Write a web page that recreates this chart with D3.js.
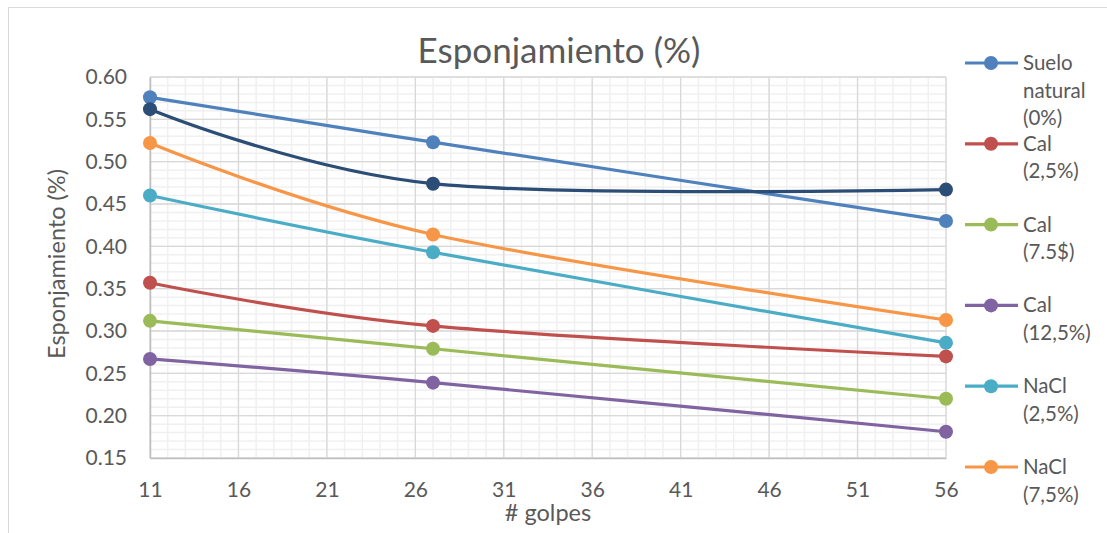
<!DOCTYPE html>
<html>
<head>
<meta charset="utf-8">
<script src="https://cdn.jsdelivr.net/npm/d3@7"></script>
<style>
  html, body { margin: 0; padding: 0; background: #fff; }
  svg { display: block; font-family: Lato, "Open Sans", sans-serif; }
</style>
</head>
<body>
<svg id="chart" width="1107" height="533"></svg>
<script>
// Number of blows (x) at which each sample was measured
const golpes = [11, 27, 56];

// Swelling values per mix
const sueloNatural = [0.576, 0.523, 0.430];
const cal25 = [0.357, 0.306, 0.270];
const cal75 = [0.312, 0.279, 0.220];
const cal125 = [0.267, 0.239, 0.181];
const nacl25 = [0.460, 0.393, 0.286];
const nacl75 = [0.522, 0.414, 0.313];
const nacl125 = [0.562, 0.474, 0.467];

const seriesNames = ["Suelo natural (0%)", "Cal (2,5%)", "Cal (7.5$)", "Cal (12,5%)", "NaCl (2,5%)", "NaCl (7,5%)", "NaCl (12,5%)"];
const seriesValues = [sueloNatural, cal25, cal75, cal125, nacl25, nacl75, nacl125];
const seriesColors = ["#4f81bd", "#c0504d", "#9bbb59", "#8064a2", "#4bacc6", "#f79646", "#2c4d75"];
// Legend text wrapped onto lines
const legendLines = [["Suelo", "natural", "(0%)"], ["Cal", "(2,5%)"], ["Cal", "(7.5$)"], ["Cal", "(12,5%)"], ["NaCl", "(2,5%)"], ["NaCl", "(7,5%)"], ["NaCl", "(12,5%)"]];

const xTicks = [11, 16, 21, 26, 31, 36, 41, 46, 51, 56];
const yTicks = [0.15, 0.20, 0.25, 0.30, 0.35, 0.40, 0.45, 0.50, 0.55, 0.60];

const W = 1107, H = 533;
const svg = d3.select("#chart");
const textColor = "#595959";

// Chart frame (extends past the right and bottom edges)
svg.append("rect")
  .attr("x", 8.5).attr("y", 7.5)
  .attr("width", 1120).attr("height", 560)
  .attr("fill", "#fff").attr("stroke", "#d9d9d9").attr("stroke-width", 1);

const plot = { left: 150, right: 946, top: 77, bottom: 458 };

const x = d3.scaleLinear().domain([11, 56]).range([plot.left, plot.right]);
const y = d3.scaleLinear().domain([0.15, 0.60]).range([plot.bottom, plot.top]);

const g = svg.append("g");

// Minor gridlines (every 1 blow, every 0.01)
const xMinor = d3.range(11, 56.001, 1);
const yMinor = d3.range(0, 46).map(i => +(0.15 + i * 0.01).toFixed(2));
g.selectAll(".xminor").data(xMinor).enter().append("line")
  .attr("x1", d => x(d)).attr("x2", d => x(d))
  .attr("y1", plot.top).attr("y2", plot.bottom)
  .attr("stroke", "#f0f0f0").attr("stroke-width", 1.5);
g.selectAll(".yminor").data(yMinor).enter().append("line")
  .attr("x1", plot.left).attr("x2", plot.right)
  .attr("y1", d => y(d)).attr("y2", d => y(d))
  .attr("stroke", "#f0f0f0").attr("stroke-width", 1.5);

// Major gridlines
g.selectAll(".xmajor").data(xTicks).enter().append("line")
  .attr("x1", d => x(d)).attr("x2", d => x(d))
  .attr("y1", plot.top).attr("y2", plot.bottom)
  .attr("stroke", "#d9d9d9").attr("stroke-width", 1.3);
g.selectAll(".ymajor").data(yTicks).enter().append("line")
  .attr("x1", plot.left).attr("x2", plot.right)
  .attr("y1", d => y(d)).attr("y2", d => y(d))
  .attr("stroke", "#d9d9d9").attr("stroke-width", 1.3);

// Axes
const xAxis = d3.axisBottom(x).tickValues(xTicks).tickSize(0).tickPadding(24).tickFormat(d3.format("d"));
const yAxis = d3.axisLeft(y).tickValues(yTicks).tickSize(0).tickPadding(23).tickFormat(d3.format(".2f"));

const gx = svg.append("g").attr("transform", `translate(0,${plot.bottom})`).call(xAxis);
const gy = svg.append("g").attr("transform", `translate(${plot.left},0)`).call(yAxis);
[gx, gy].forEach(a => {
  a.select(".domain").attr("stroke", "#bfbfbf").attr("stroke-width", 1.5);
  a.selectAll("text").attr("fill", textColor).style("font-size", "21px")
    .style("font-family", "Lato, 'Open Sans', sans-serif");
});

// Series lines (smoothed) and markers
const line = d3.line()
  .x((d, i) => x(golpes[i]))
  .y(d => y(d))
  .curve(d3.curveCardinal.tension(0));

seriesValues.forEach((vals, s) => {
  svg.append("path")
    .datum(vals)
    .attr("d", line)
    .attr("fill", "none")
    .attr("stroke", seriesColors[s])
    .attr("stroke-width", 3.2)
    .attr("stroke-linecap", "round");
  svg.selectAll(null).data(vals).enter().append("circle")
    .attr("cx", (d, i) => x(golpes[i]))
    .attr("cy", d => y(d))
    .attr("r", 7)
    .attr("fill", seriesColors[s]);
});

// Title and axis labels
svg.append("text")
  .attr("x", 559).attr("y", 63)
  .attr("text-anchor", "middle")
  .attr("fill", textColor)
  .style("font-size", "35px")
  .text("Esponjamiento (%)");

svg.append("text")
  .attr("transform", "translate(65,264) rotate(-90)")
  .attr("text-anchor", "middle")
  .attr("fill", textColor)
  .style("font-size", "23.5px")
  .text("Esponjamiento (%)");

svg.append("text")
  .attr("x", 548).attr("y", 521)
  .attr("text-anchor", "middle")
  .attr("fill", textColor)
  .style("font-size", "23.5px")
  .text("# golpes");

// Legend: entries that would start below the chart bottom are left out
const legend = svg.append("g");
seriesNames.forEach((name, s) => {
  const ly = 63 + s * 80.8;
  if (ly + 8 > H) return;
  const item = legend.append("g").attr("transform", `translate(0,${ly})`);
  item.append("line")
    .attr("x1", 965).attr("x2", 1018)
    .attr("y1", 0).attr("y2", 0)
    .attr("stroke", seriesColors[s]).attr("stroke-width", 3.2);
  item.append("circle")
    .attr("cx", 991).attr("cy", 0).attr("r", 7)
    .attr("fill", seriesColors[s]);
  const t = item.append("text")
    .attr("x", 1023).attr("y", 7)
    .attr("fill", textColor)
    .style("font-size", "20.5px");
  legendLines[s].forEach((ln, k) => {
    t.append("tspan").attr("x", 1023).attr("dy", k === 0 ? 0 : 27.5).text(ln);
  });
});
</script>
</body>
</html>
